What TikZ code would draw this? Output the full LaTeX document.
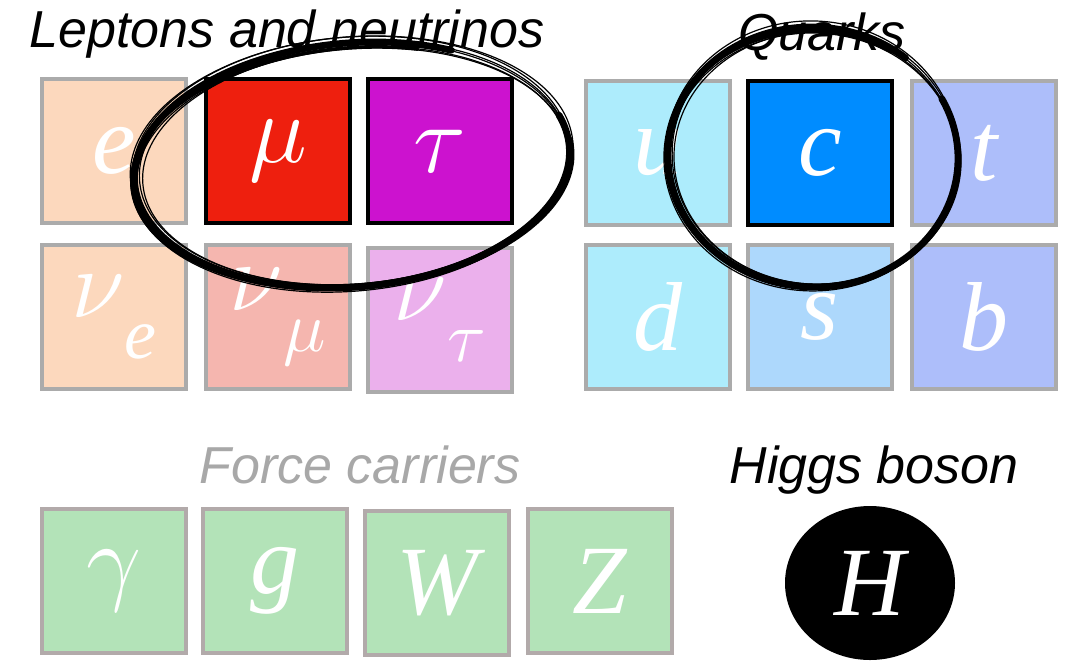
\documentclass[tikz,border=0pt]{standalone}
\usepackage{fix-cm}
\usepackage{fontspec}
\newfontfamily\hel{Liberation Sans}
\newfontfamily\tms{Liberation Serif}
\usetikzlibrary{shapes.geometric}
\definecolor{cellgray}{HTML}{ABABAB}
\definecolor{fcgray}{HTML}{B2AAAA}
\definecolor{ecol}{HTML}{FCD8BD}
\definecolor{mucol}{HTML}{EE1F0E}
\definecolor{taucol}{HTML}{CC12CF}
\definecolor{numucol}{HTML}{F5B6AF}
\definecolor{nutaucol}{HTML}{EBB0EC}
\definecolor{udcol}{HTML}{ADECFC}
\definecolor{ccol}{HTML}{008CFF}
\definecolor{scol}{HTML}{ADD8FC}
\definecolor{tbcol}{HTML}{ADBEFA}
\definecolor{gcol}{HTML}{B3E3B8}
\definecolor{titlegray}{HTML}{A8A8A8}
\newcommand{\sub}[1]{\raisebox{-0.42em}{\fontsize{36}{36}\selectfont #1}}
\begin{document}
\begin{tikzpicture}[x=0.5pt,y=-0.5pt]
\useasboundingbox (0,0) rectangle (1066,660);
\tikzset{
  cell/.style={rectangle, minimum width=72pt, minimum height=72pt, line width=2pt,
    draw=cellgray, inner sep=0pt, text=white, font=\tms\itshape\fontsize{49}{49}\selectfont},
  hot/.style={cell, draw=black},
  fcell/.style={cell, draw=fcgray, fill=gcol},
  title/.style={font=\hel\itshape\fontsize{26}{26}\selectfont, anchor=base, inner sep=0pt},
  brush/.style={line width=3.4pt, line cap=round},
  hair/.style={line width=0.6pt, line cap=round}
}
% titles
\node[title] (lt) at (287,47) {Leptons and neutrinos};
\node[title] (qt) at (822,50) {Quarks};
\node[title, text=titlegray] (ft) at (360,483) {Force carriers};
\node[title] (ht) at (874,483) {Higgs boson};
% leptons
\node[cell, fill=ecol] (e) at (114,151) {e};
\node[hot, fill=mucol] (mu) at (278,151) {$\mu$};
\node[hot, fill=taucol] (tau) at (440,151) {$\tau$};
\node[cell, fill=ecol] (nue) at (114,317) {$\nu$\sub{e}};
\node[cell, fill=numucol] (numu) at (278,317) {$\nu$\sub{$\mu$}};
\node[cell, fill=nutaucol] (nutau) at (440,320) {$\nu$\sub{$\tau$}};
% quarks
\node[cell, fill=udcol] (u) at (658,153) {u};
\node[hot, fill=ccol] (c) at (820,153) {c};
\node[cell, fill=tbcol] (t) at (984,153) {t};
\node[cell, fill=udcol] (d) at (658,317) {d};
\node[cell, fill=scol] (s) at (820,317) {s};
\node[cell, fill=tbcol] (b) at (984,317) {b};
% force carriers
\node[fcell] (gamma) at (114,581) {$\gamma$};
\node[fcell] (g) at (275,581) {g};
\node[fcell] (W) at (437,583) {W};
\node[fcell] (Z) at (600,581) {Z};
% Higgs
\node[ellipse, fill=black, minimum width=85pt, minimum height=77pt, inner sep=0pt,
  text=white, font=\tms\itshape\fontsize{49}{49}\selectfont] (H) at (870,583) {H};
% hand-drawn ellipse around mu, tau
\begin{scope}[rotate around={5:(352,165)}]
  \draw[brush] (352,165) ++(-15:218 and 122) arc[start angle=-15, end angle=300, x radius=218, y radius=122];
  \draw[brush, line width=1.8pt] (352,168) ++(-5:221 and 120) arc[start angle=-5, end angle=290, x radius=221, y radius=120];
  \foreach \dx/\dy/\rx/\ry in {2/-2/215/121, -2/2/220/124, 1/3/217/119, -1/-3/219/125, 3/1/213/118, 0/-4/222/124}
    \draw[hair] (352+\dx,165+\dy) ellipse [x radius=\rx, y radius=\ry];
\end{scope}
% hand-drawn circle around c
\begin{scope}[rotate around={-3:(813,157)}]
  \draw[brush] (813,157) ++(-30:145 and 130) arc[start angle=-30, end angle=307, x radius=145, y radius=130];
  \draw[brush, line width=1.8pt] (813,159) ++(-20:147 and 128) arc[start angle=-20, end angle=300, x radius=147, y radius=128];
  \foreach \dx/\dy/\rx/\ry in {2/-2/143/129, -2/2/147/132, 1/3/145/127, -1/-3/146/133, 3/1/142/126}
    \draw[hair] (813+\dx,157+\dy) ellipse [x radius=\rx, y radius=\ry];
\end{scope}
\end{tikzpicture}
\end{document}
